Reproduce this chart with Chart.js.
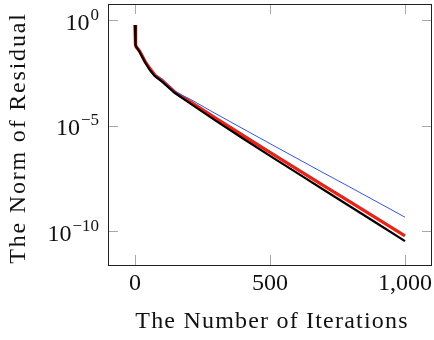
<!DOCTYPE html>
<html>
<head>
<meta charset="utf-8">
<script src="https://cdn.jsdelivr.net/npm/chart.js@4/dist/chart.umd.min.js"></script>
<style>
  body { margin: 0; background: #fff; }
  #wrap { width: 434px; height: 340px; }
</style>
</head>
<body>
<div id="wrap"><canvas id="myChart" width="434" height="340"></canvas></div>
<script>
const iterations = [0, 2, 5, 10, 18, 37, 55, 74, 100, 148, 204, 300, 400, 500, 600, 700, 800, 900, 1000];

// residual norms
const resBlack = [5.8e-1, 6.6e-2, 5.2e-2, 4.3e-2, 3.0e-2, 1.0e-2, 4.3e-3, 2.2e-3, 1.2e-3, 3.5e-4, 1.12e-4, 1.66e-5, 2.45e-6, 3.7e-7, 5.75e-8, 8.9e-9, 1.4e-9, 2.2e-10, 3.4e-11];
const resRed   = [5.8e-1, 6.6e-2, 5.2e-2, 4.4e-2, 3.2e-2, 1.1e-2, 5.0e-3, 2.4e-3, 1.4e-3, 3.8e-4, 1.35e-4, 2.2e-5, 3.4e-6, 5.4e-7, 8.7e-8, 1.4e-8, 2.3e-9, 3.7e-10, 6.0e-11];
const resBlue  = [5.8e-1, 6.6e-2, 5.2e-2, 4.3e-2, 3.1e-2, 1.05e-2, 4.6e-3, 2.4e-3, 1.5e-3, 4.0e-4, 1.8e-4, 3.6e-5, 7.1e-6, 1.4e-6, 2.8e-7, 5.6e-8, 1.15e-8, 2.3e-9, 4.6e-10];

const xTicks = [0, 500, 1000];
const yTicks = [1e-10, 1e-5, 1];
const yExp = ["\u221210", "\u22125", "0"];

const xTitle = "The Number of Iterations";
const yTitle = "The Norm of Residual";

const serif = "'Liberation Serif', 'DejaVu Serif', serif";

function pts(arr) {
  return iterations.map((it, i) => ({ x: it, y: arr[i] }));
}

// frame, inward ticks, y labels with exponents, axis titles
const framePlugin = {
  id: "frame",
  afterDraw(chart) {
    const ctx = chart.ctx;
    const a = chart.chartArea;
    const xs = chart.scales.x;
    const ys = chart.scales.y;
    const tl = 10;
    ctx.save();

    ctx.strokeStyle = "#a8a8a8";
    ctx.lineWidth = 1;
    ctx.beginPath();
    xTicks.forEach((v) => {
      const px = Math.round(xs.getPixelForValue(v)) + 0.5;
      ctx.moveTo(px, a.bottom); ctx.lineTo(px, a.bottom - tl);
      ctx.moveTo(px, a.top); ctx.lineTo(px, a.top + tl);
    });
    yTicks.forEach((v) => {
      const py = Math.round(ys.getPixelForValue(v)) + 0.5;
      ctx.moveTo(a.left, py); ctx.lineTo(a.left + tl, py);
      ctx.moveTo(a.right, py); ctx.lineTo(a.right - tl, py);
    });
    ctx.stroke();

    ctx.strokeStyle = "#222";
    ctx.strokeRect(Math.round(a.left) + 0.5, Math.round(a.top) + 0.5,
      Math.round(a.right - a.left) - 1, Math.round(a.bottom - a.top));

    // y tick labels 10^k
    ctx.fillStyle = "#111";
    ctx.textBaseline = "alphabetic";
    ctx.textAlign = "left";
    yTicks.forEach((v, i) => {
      const py = ys.getPixelForValue(v);
      ctx.font = "24px " + serif;
      const wMain = ctx.measureText("10").width;
      ctx.font = "17px " + serif;
      const wSup = ctx.measureText(yExp[i]).width;
      const x0 = a.left - 10 - wMain - wSup;
      ctx.font = "24px " + serif;
      ctx.fillText("10", x0, py + 9.5);
      ctx.font = "17px " + serif;
      ctx.fillText(yExp[i], x0 + wMain + 1, py - 0.5);
    });

    // axis titles
    ctx.font = "24px " + serif;
    ctx.textAlign = "center";
    ctx.letterSpacing = "1.2px";
    ctx.fillText(xTitle, 272, 328);
    ctx.save();
    ctx.translate(25, 138);
    ctx.rotate(-Math.PI / 2);
    ctx.letterSpacing = "1.8px";
    ctx.fillText(yTitle, 0, 0);
    ctx.restore();

    ctx.restore();
  },
};

const config = {
  type: "line",
  data: {
    datasets: [
      {
        label: "black",
        data: pts(resBlack),
        borderColor: "#000",
        borderWidth: 2.2,
        order: 0,
      },
      {
        label: "blue",
        data: pts(resBlue),
        borderColor: "rgb(55, 85, 210)",
        borderWidth: 1,
        order: 1,
      },
      {
        label: "red",
        data: pts(resRed),
        borderColor: "rgb(232, 35, 25)",
        borderWidth: 3.4,
        order: 2,
      },
    ],
  },
  options: {
    responsive: false,
    animation: false,
    devicePixelRatio: 1,
    layout: { padding: { top: 4, right: 2, left: 0, bottom: 0 } },
    elements: { point: { radius: 0 }, line: { tension: 0 } },
    plugins: { legend: { display: false }, tooltip: { enabled: false } },
    scales: {
      x: {
        type: "linear",
        min: -100,
        max: 1100,
        grid: { display: false },
        border: { display: false },
        afterBuildTicks: (s) => { s.ticks = xTicks.map((v) => ({ value: v })); },
        afterFit: (s) => { s.height = 75; },
        ticks: {
          color: "#111",
          padding: -4,
          maxRotation: 0,
          font: { family: serif, size: 24 },
          callback: (v) => v.toLocaleString("en-US"),
        },
      },
      y: {
        type: "logarithmic",
        min: 2.5e-12,
        max: 5.75,
        grid: { display: false },
        border: { display: false },
        afterBuildTicks: (s) => { s.ticks = yTicks.map((v) => ({ value: v })); },
        afterFit: (s) => { s.width = 108; },
        ticks: { display: false },
      },
    },
  },
  plugins: [framePlugin],
};

var myChart = new Chart(document.getElementById("myChart"), config);
</script>
</body>
</html>
